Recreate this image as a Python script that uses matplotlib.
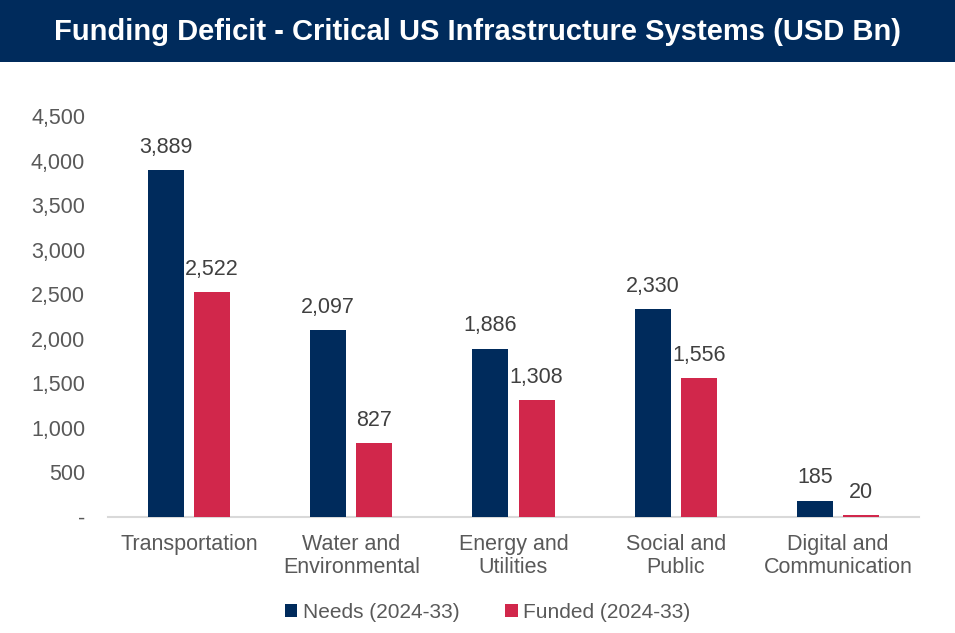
import numpy as np
import matplotlib.pyplot as plt
from matplotlib.patches import Rectangle

plt.rcParams['font.family'] = ['Liberation Sans', 'DejaVu Sans']

# Données
categories = ["Transportation", "Water and\nEnvironmental", "Energy and\nUtilities",
              "Social and\nPublic", "Digital and\nCommunication"]
needs = [3889, 2097, 1886, 2330, 185]
funded = [2522, 827, 1308, 1556, 20]
yticks = [0, 500, 1000, 1500, 2000, 2500, 3000, 3500, 4000, 4500]
ytick_labels = ["-", "500", "1,000", "1,500", "2,000", "2,500", "3,000", "3,500", "4,000", "4,500"]

navy = "#002B5C"
red = "#D1274B"
grey = "#595959"

fig = plt.figure(figsize=(9.55, 6.33), dpi=100)

# Bandeau titre
fig.patches.append(Rectangle((0, 1 - 62 / 633), 1, 62 / 633, transform=fig.transFigure,
                             facecolor=navy, edgecolor="none"))
fig.text(0.5, 1 - 32 / 633, "Funding Deficit - Critical US Infrastructure Systems (USD Bn)",
         color="white", fontsize=21, fontweight="bold", ha="center", va="center")

ax = fig.add_axes([108 / 955, 1 - 517 / 633, 811 / 955, 401 / 633])
x = np.arange(len(categories))
w = 0.222
off = 0.142
b1 = ax.bar(x - off, needs, w, color=navy, label="Needs (2024-33)", zorder=3)
b2 = ax.bar(x + off, funded, w, color=red, label="Funded (2024-33)", zorder=3)

for bars, vals in [(b1, needs), (b2, funded)]:
    for r, v in zip(bars, vals):
        ax.annotate(f"{v:,}", (r.get_x() + r.get_width() / 2, v), xytext=(0, 9),
                    textcoords="offset points", ha="center", va="bottom",
                    fontsize=15.5, color="#404040")

ax.set_xlim(-0.5, 4.5)
ax.set_ylim(0, 4500)
ax.set_yticks(yticks)
ax.set_yticklabels(ytick_labels, fontsize=15.5, color=grey)
ax.set_xticks(x)
ax.set_xticklabels(categories, fontsize=15.5, color=grey, linespacing=1.15)
ax.tick_params(axis="both", length=0)
ax.tick_params(axis="y", pad=16.5)
ax.tick_params(axis="x", pad=12)
for s in ["top", "right", "left"]:
    ax.spines[s].set_visible(False)
ax.spines["bottom"].set_color("#D9D9D9")
ax.spines["bottom"].set_linewidth(1.5)
ax.spines["bottom"].set_zorder(1)

leg = fig.legend(handles=[b1, b2], loc="center", bbox_to_anchor=(0.5 + 10 / 955, 1 - 612 / 633),
                 ncol=2, frameon=False, fontsize=15, handlelength=0.6, handleheight=0.6,
                 handletextpad=0.25, columnspacing=2.2)
for t in leg.get_texts():
    t.set_color(grey)

fig.savefig("out.png", dpi=100)
